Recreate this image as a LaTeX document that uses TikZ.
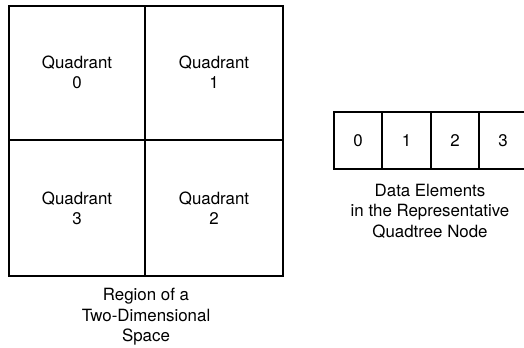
\documentclass[tikz,border=0pt]{standalone}
\usepackage{fontspec}
\setmainfont{TeX Gyre Heros}
\usepackage{tikz}

\begin{document}
\begin{tikzpicture}[x=0.02cm, y=0.02cm, line width=0.8pt,
  every node/.style={font=\fontsize{9.6}{11.6}\selectfont, align=center}]
\useasboundingbox (0,0) rectangle (524,348);
\coordinate (SW) at (9,72);
\coordinate (NE) at (283,342);
\coordinate (M) at (145,208);
% region split into four quadrants
\draw (SW) rectangle (NE);
\draw (145,72)--(145,342);
\draw (9,208)--(283,208);
\node (q0) at (77,275.5) {Quadrant\\0};
\node (q1) at (214,275.5) {Quadrant\\1};
\node (q3) at (77,139.5) {Quadrant\\3};
\node (q2) at (214,139.5) {Quadrant\\2};
\node (region) at (146,31) {Region of a\\Two-Dimensional\\Space};
% data elements of the node
\draw (334,179) rectangle (527,236);
\foreach \x/\i in {382/1, 431/2, 479/3}
  \draw (\x,179)--(\x,236);
\node (d0) at (358,207.5) {0};
\node (d1) at (406.5,207.5) {1};
\node (d2) at (455,207.5) {2};
\node (d3) at (503,207.5) {3};
\node (elements) at (430,137) {Data Elements\\in the Representative\\Quadtree Node};
\end{tikzpicture}
\end{document}
